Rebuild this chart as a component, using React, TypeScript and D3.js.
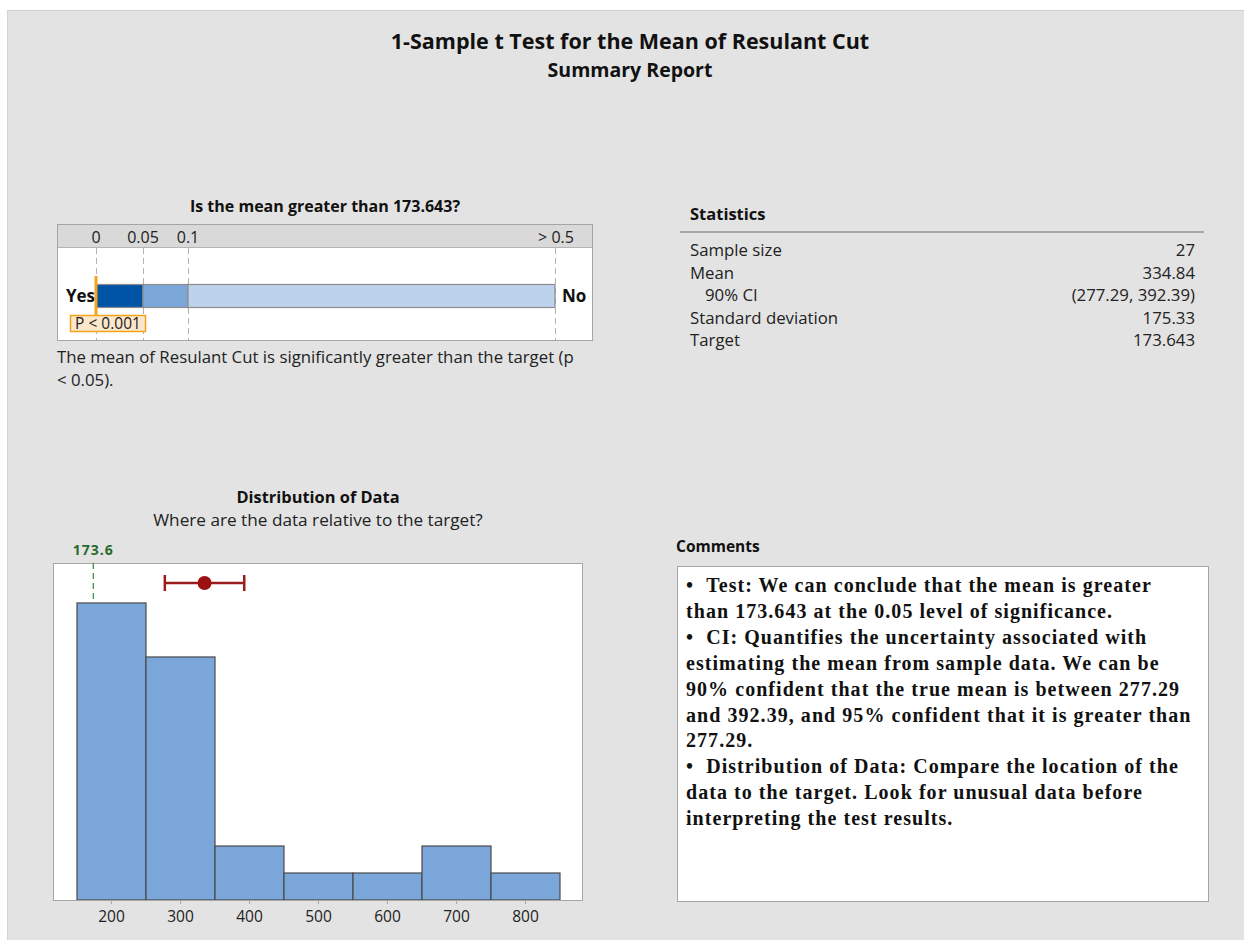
import React from "react";
import * as d3 from "d3";

const TITLE = "1-Sample t Test for the Mean of Resulant Cut";
const SUBTITLE = "Summary Report";

const pTicks = [0, 0.05, 0.1, 0.5];
const pTickLabels = ["0", "0.05", "0.1", "> 0.5"];
const pValueLabel = "P < 0.001";
const pValue = 0;
const pBands = [
  { from: 0, to: 0.05, color: "#0054a6" },
  { from: 0.05, to: 0.1, color: "#7ba7d9" },
  { from: 0.1, to: 0.5, color: "#bdd2ec" },
];

const statLabels = ["Sample size", "Mean", "90% CI", "Standard deviation", "Target"];
const statValues = ["27", "334.84", "(277.29, 392.39)", "175.33", "173.643"];

const binStarts = [150, 250, 350, 450, 550, 650, 750];
const binWidth = 100;
const binCounts = [11, 9, 2, 1, 1, 2, 1];
const xTicks = [200, 300, 400, 500, 600, 700, 800];
const target = 173.643;
const targetLabel = "173.6";
const mean = 334.84;
const ciLow = 277.29;
const ciHigh = 392.39;

const commentLines = [
  "\u2022\u00a0\u00a0Test: We can conclude that the mean is greater",
  "than 173.643 at the 0.05 level of significance.",
  "\u2022\u00a0\u00a0CI: Quantifies the uncertainty associated with",
  "estimating the mean from sample data. We can be",
  "90% confident that the true mean is between 277.29",
  "and 392.39, and 95% confident that it is greater than",
  "277.29.",
  "\u2022\u00a0\u00a0Distribution of Data: Compare the location of the",
  "data to the target. Look for unusual data before",
  "interpreting the test results.",
];

const SANS = "'Open Sans', 'Noto Sans', sans-serif";
const SERIF = "'Liberation Serif', 'DejaVu Serif', serif";

export default function App() {
  const pScale = d3.scaleLinear().domain(pTicks).range([96, 143, 188, 555]);
  const x = d3.scaleLinear().domain([150, 850]).range([77, 560]);
  const y = d3.scaleLinear().domain([0, 12.48]).range([900, 563]);
  const frameL = 53, frameR = 582, frameT = 563, frameB = 900;
  const ciY = frameT + 20;

  return (
    <svg
      width={1244}
      height={940}
      style={{ position: "absolute", left: 0, top: 0, background: "#ffffff" }}
      fontFamily={SANS}
    >
      <rect x={7} y={10} width={1237} height={930} fill="#e3e3e3" />
      <line x1={7} y1={10.5} x2={1244} y2={10.5} stroke="#cfcfcf" />
      <line x1={7.5} y1={10} x2={7.5} y2={940} stroke="#d4d4d4" />

      <text x={630} y={49} textAnchor="middle" fontSize={21.5} fontWeight="bold" fill="#111">{TITLE}</text>
      <text x={630} y={77} textAnchor="middle" fontSize={19.5} fontWeight="bold" fill="#111">{SUBTITLE}</text>

      {/* P-value panel */}
      <text x={325} y={212} textAnchor="middle" fontSize={16} fontWeight="bold" fill="#111">Is the mean greater than 173.643?</text>
      <rect x={57.5} y={224.5} width={535} height={116} fill="#ffffff" stroke="#a6a6a6" />
      <rect x={58} y={225} width={534} height={22} fill="#d9d9d9" />
      <line x1={58} y1={247.5} x2={592} y2={247.5} stroke="#b5b5b5" />
      {pTicks.map((t, i) => (
        <g key={i}>
          <text x={pScale(t) + (i === 3 ? 1 : 0)} y={243} textAnchor="middle" fontSize={16} fill="#222">{pTickLabels[i]}</text>
          <line x1={pScale(t) + 0.5} y1={248} x2={pScale(t) + 0.5} y2={340} stroke="#b0b0b0" strokeDasharray="6,4" />
        </g>
      ))}
      {pBands.map((b, i) => (
        <rect key={i} x={pScale(b.from)} y={284.5} width={pScale(b.to) - pScale(b.from)} height={23} fill={b.color} stroke="#8c8c8c" strokeWidth={1.2} />
      ))}
      <text x={95} y={302} textAnchor="end" fontSize={17} fontWeight="bold" fill="#111">Yes</text>
      <text x={562} y={302} fontSize={17} fontWeight="bold" fill="#111">No</text>
      <line x1={pScale(pValue)} y1={276} x2={pScale(pValue)} y2={316} stroke="#f5a31a" strokeWidth={3} />
      <rect x={70.5} y={315.5} width={75} height={16} fill="#fbe7cc" stroke="#f5a31a" strokeWidth={1.5} />
      <text x={108} y={329} textAnchor="middle" fontSize={15.5} fill="#222">{pValueLabel}</text>
      <text x={57} y={363} fontSize={16.8} fill="#222">The mean of Resulant Cut is significantly greater than the target (p</text>
      <text x={57} y={386} fontSize={16.8} fill="#222">&lt; 0.05).</text>

      {/* Statistics */}
      <text x={690} y={220} fontSize={16.5} fontWeight="bold" fill="#111">Statistics</text>
      <line x1={680} y1={232} x2={1204} y2={232} stroke="#a8a8a8" strokeWidth={2} />
      {statLabels.map((l, i) => (
        <g key={i}>
          <text x={i === 2 ? 705 : 690} y={256 + i * 22.5} fontSize={16.8} fill="#222">{l}</text>
          <text x={1195} y={256 + i * 22.5} textAnchor="end" fontSize={16.8} fill="#222">{statValues[i]}</text>
        </g>
      ))}

      {/* Distribution */}
      <text x={318} y={503} textAnchor="middle" fontSize={16.4} fontWeight="bold" fill="#111">Distribution of Data</text>
      <text x={318} y={526} textAnchor="middle" fontSize={17.2} fill="#222">Where are the data relative to the target?</text>
      <rect x={frameL + 0.5} y={frameT + 0.5} width={frameR - frameL} height={frameB - frameT} fill="#ffffff" stroke="#a6a6a6" />
      {binStarts.map((s, i) => (
        <rect key={i} x={x(s)} y={y(binCounts[i])} width={x(s + binWidth) - x(s)} height={y(0) - y(binCounts[i])} fill="#7ba6d9" stroke="#4a4a4a" strokeWidth={1.2} />
      ))}
      <line x1={frameL} y1={frameB + 0.5} x2={frameR + 1} y2={frameB + 0.5} stroke="#a6a6a6" />
      {xTicks.map((t) => (
        <g key={t}>
          <line x1={x(t)} y1={frameB} x2={x(t)} y2={frameB + 4} stroke="#a6a6a6" />
          <text x={x(t)} y={922} textAnchor="middle" fontSize={15.5} fill="#222">{t}</text>
        </g>
      ))}
      <line x1={x(target)} y1={frameT} x2={x(target)} y2={y(binCounts[0])} stroke="#2e8b3e" strokeWidth={1.2} strokeDasharray="6,4" />
      <text x={x(target)} y={555} textAnchor="middle" fontSize={14} fontWeight="bold" letterSpacing={1} fill="#2a6a2e">{targetLabel}</text>
      <line x1={x(ciLow)} y1={ciY} x2={x(ciHigh)} y2={ciY} stroke="#9b1c1c" strokeWidth={2.5} />
      <line x1={x(ciLow)} y1={ciY - 8} x2={x(ciLow)} y2={ciY + 8} stroke="#9b1c1c" strokeWidth={2.5} />
      <line x1={x(ciHigh)} y1={ciY - 8} x2={x(ciHigh)} y2={ciY + 8} stroke="#9b1c1c" strokeWidth={2.5} />
      <circle cx={x(mean)} cy={ciY} r={7} fill="#9b1010" />

      {/* Comments */}
      <text x={676} y={552} fontSize={15.5} fontWeight="bold" fill="#111">Comments</text>
      <rect x={677.5} y={566.5} width={531} height={335} fill="#ffffff" stroke="#a6a6a6" />
      {commentLines.map((l, i) => (
        <text key={i} x={686} y={592 + i * 25.9} fontSize={20} fontWeight="bold" letterSpacing={1.05} fontFamily={SERIF} fill="#111">{l}</text>
      ))}
    </svg>
  );
}
